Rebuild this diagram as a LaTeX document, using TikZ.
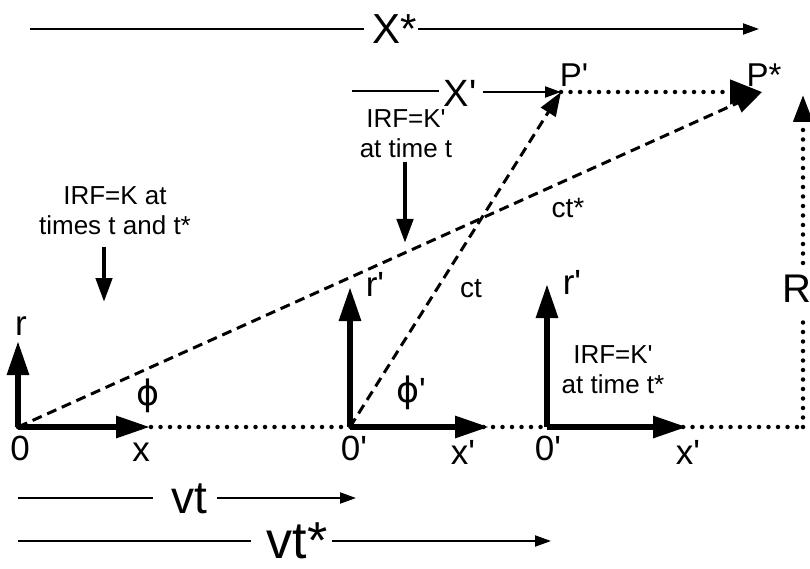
\documentclass[tikz,border=0pt]{standalone}
\usepackage{fontspec}
\setmainfont{Liberation Sans}[Ligatures=TeXOff]
\newfontfamily\phifont{DejaVu Sans}
\usetikzlibrary{arrows.meta}
\begin{document}
\begin{tikzpicture}[x=1pt,y=-1pt,
  lab/.style={font=\fontsize{35}{35}\selectfont, inner sep=0pt},
  small/.style={font=\fontsize{26}{30}\selectfont, align=center, inner sep=0pt},
  axis/.style={line width=6pt, -{Triangle[length=34pt,width=21pt]}},
  thinline/.style={line width=2pt},
  thinarr/.style={line width=2pt, -{Triangle[length=16pt,width=11pt]}},
  dashline/.style={line width=3pt, dash pattern=on 10pt off 6pt},
  dotline/.style={line width=4.5pt, line cap=round, dash pattern=on 0pt off 9.5pt},
  pointer/.style={line width=4.5pt, -{Triangle[length=24pt,width=16pt]}}]
\useasboundingbox (0,0) rectangle (810,569);

% points
\coordinate (O) at (18,427);
\coordinate (O1) at (350,427);
\coordinate (O2) at (547,427);
\coordinate (P1) at (561,92);
\coordinate (Ps) at (762,92);
\coordinate (Rb) at (803,427);
\coordinate (Rt) at (803,95);

% dotted base line and vertical
\draw[dotline] (O) -- (Rb);
\node[lab, font=\fontsize{40}{40}\selectfont] (R) at (797,289) {R};
\coordinate (Rlo) at (803,313);
\coordinate (Rhi) at (803,263);
\draw[dotline] (Rb) -- (Rlo);
\draw[dotline, -{Triangle[length=27pt,width=19pt]}] (Rhi) -- (Rt);

% dashed rays
\draw[dashline, -{Triangle[length=27pt,width=20pt]}] (O) -- (Ps);
\draw[dashline, -{Triangle[length=24pt,width=17pt]}] (O1) -- (P1);
% dotted P' -> P*
\draw[dotline, -{Triangle[length=32pt,width=24pt]}] (P1) -- (Ps);

% axes
\draw[axis] (O) -- (18,341);
\draw[axis] (O) -- (150,427);
\draw[axis] (O1) -- (350,287);
\draw[axis] (O1) -- (489,427);
\draw[axis] (O2) -- (547,284);
\draw[axis] (O2) -- (687,427);

% axis labels
\node[lab] (r0) at (21,326) {r};
\node[lab] (x0) at (141,452) {x};
\node[lab] (z0) at (20,448) {0};
\node[lab] (phi) at (148,396) {\phifont ϕ};
\node[lab] (r1) at (375,284) {r'};
\node[lab] (z1) at (354,448) {0'};
\node[lab] (x1) at (463,452) {x'};
\node[lab] (phi1) at (411,393) {\phifont ϕ\rmfamily'};
\node[lab] (r2) at (572,282) {r'};
\node[lab] (z2) at (548,448) {0'};
\node[lab] (x2) at (688,452) {x'};
\node[small, font=\fontsize{28}{28}\selectfont] (ct) at (471,289) {ct};
\node[small, font=\fontsize{28}{28}\selectfont] (cts) at (568,208) {ct*};

% texts with pointers
\node[small] (irfK) at (115,211) {IRF=K at\\times t and t*};
\coordinate (k1) at (104,247);
\coordinate (k2) at (104,302);
\draw[pointer] (k1) -- (k2);
\node[small] (irfK1) at (406,134) {IRF=K'\\at time t};
\coordinate (k3) at (405,162);
\coordinate (k4) at (405,243);
\draw[pointer] (k3) -- (k4);
\node[small] (irfK2) at (613,370) {IRF=K'\\at time t*};

% P labels
\node[lab, font=\fontsize{33}{33}\selectfont] (Pl) at (574,75) {P'};
\node[lab, font=\fontsize{33}{33}\selectfont] (Psl) at (764,75) {P*};

% X* arrow
\node[lab, font=\fontsize{42}{42}\selectfont] (Xs) at (395,29) {X*};
\coordinate (xa) at (30,29);
\coordinate (xb) at (759,29);
\draw[thinline] (xa) -- ([xshift=-9pt]xa -| Xs.west);
\draw[thinarr] ([xshift=1pt]xb -| Xs.east) -- (xb);

% X' arrow
\node[lab, font=\fontsize{38}{38}\selectfont] (Xp) at (460,93) {X'};
\coordinate (xc) at (352,91);
\draw[thinline] (xc) -- ([xshift=-5pt]xc -| Xp.west);
\draw[thinarr] ([xshift=6pt]P1 -| Xp.east) -- (P1);

% vt
\node[lab, font=\fontsize{46}{46}\selectfont] (vt) at (189,499) {vt};
\coordinate (va) at (18,498);
\coordinate (vb) at (356,498);
\draw[thinline] (va) -- ([xshift=-18pt]va -| vt.west);
\draw[thinarr] ([xshift=10pt]vb -| vt.east) -- (vb);

% vt*
\node[lab, font=\fontsize{52}{52}\selectfont] (vts) at (297,541) {vt*};
\coordinate (wa) at (18,541);
\coordinate (wb) at (551,541);
\draw[thinline] (wa) -- ([xshift=-15pt]wa -| vts.west);
\draw[thinarr] ([xshift=4pt]wb -| vts.east) -- (wb);
\end{tikzpicture}
\end{document}
